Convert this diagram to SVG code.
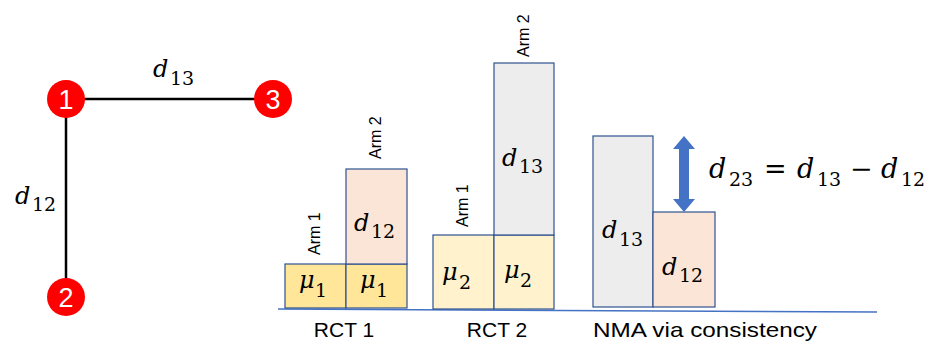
<svg xmlns="http://www.w3.org/2000/svg" width="943" height="363" viewBox="0 0 943 363">
<style>
.edge{stroke:#000;stroke-width:2.5;fill:none}
.node{fill:#FF0000}
.nlbl{font-family:"Liberation Sans",Arial,sans-serif;font-size:27px;fill:#fff;text-anchor:middle}
.box{stroke:#2F528F;stroke-width:1.2}
.m{font-family:"DejaVu Serif","Liberation Serif",serif;fill:#000}
.mi{font-style:italic}
.g{font-size:24px}
.g .sub{font-size:19px}
.b{font-size:24px}
.b .sub{font-size:19px}
.f{font-size:27px}
.f .sub{font-size:19px}
.arm{font-family:"Liberation Sans",Arial,sans-serif;font-size:16px;fill:#000}
.cap{font-family:"Liberation Sans",Arial,sans-serif;font-size:21px;fill:#000}
</style>
<g id="connectors">
<line class="edge" x1="66" y1="99" x2="273" y2="99"/>
<line class="edge" x1="66" y1="99" x2="66" y2="297"/>
</g>
<g id="node1"><circle class="node" cx="66" cy="99" r="19"/><text class="nlbl" x="66" y="109">1</text></g>
<g id="node2"><circle class="node" cx="66" cy="297" r="19"/><text class="nlbl" x="66" y="307">2</text></g>
<g id="node3"><circle class="node" cx="273" cy="99" r="19"/><text class="nlbl" x="273" y="109">3</text></g>
<g id="edge-labels">
<text class="m g"><tspan class="mi" x="153" y="77">d</tspan><tspan class="sub" x="170" y="85">13</tspan></text>
<text class="m g"><tspan class="mi" x="15" y="204">d</tspan><tspan class="sub" x="32" y="211">12</tspan></text>
</g>
<line x1="278" y1="309" x2="877" y2="312" stroke="#4472C4" stroke-width="1.5"/>
<g id="rct1">
<rect class="box" x="285" y="264" width="61" height="44" fill="#FFE699"/>
<rect class="box" x="346" y="264" width="61" height="44" fill="#FFE699"/>
<rect class="box" x="346" y="169" width="61" height="95" fill="#FBE5D6"/>
<text class="m b"><tspan class="mi" x="299" y="288">μ</tspan><tspan class="sub" x="315" y="297">1</tspan></text>
<text class="m b"><tspan class="mi" x="360" y="288">μ</tspan><tspan class="sub" x="376" y="297">1</tspan></text>
<text class="m b"><tspan class="mi" x="354" y="231">d</tspan><tspan class="sub" x="371" y="238">12</tspan></text>
<text class="arm" transform="translate(320,255) rotate(-90)">Arm 1</text>
<text class="arm" transform="translate(381,159) rotate(-90)">Arm 2</text>
<text class="cap" x="344" y="337" text-anchor="middle">RCT 1</text>
</g>
<g id="rct2">
<rect class="box" x="433" y="235" width="61" height="74" fill="#FFF2CC"/>
<rect class="box" x="494" y="235" width="60" height="74" fill="#FFF2CC"/>
<rect class="box" x="494" y="63" width="60" height="172" fill="#EDEDED"/>
<text class="m b"><tspan class="mi" x="442" y="280">μ</tspan><tspan class="sub" x="459" y="289">2</tspan></text>
<text class="m b"><tspan class="mi" x="504" y="278">μ</tspan><tspan class="sub" x="520" y="287">2</tspan></text>
<text class="m b"><tspan class="mi" x="502" y="166">d</tspan><tspan class="sub" x="519" y="173">13</tspan></text>
<text class="arm" transform="translate(468,227) rotate(-90)">Arm 1</text>
<text class="arm" transform="translate(529,57) rotate(-90)">Arm 2</text>
<text class="cap" x="497" y="337" text-anchor="middle">RCT 2</text>
</g>
<g id="nma">
<rect class="box" x="593" y="136" width="60" height="171" fill="#EDEDED"/>
<rect class="box" x="653" y="212" width="62" height="95" fill="#FBE5D6"/>
<text class="m b"><tspan class="mi" x="602" y="238">d</tspan><tspan class="sub" x="619" y="246">13</tspan></text>
<text class="m b"><tspan class="mi" x="662" y="275">d</tspan><tspan class="sub" x="679" y="282">12</tspan></text>
<polygon points="684,136 695,149 689,149 689,199 695,199 684,212 673,199 679,199 679,149 673,149" fill="#4472C4"/>
<text class="m f"><tspan class="mi" x="709" y="178">d</tspan><tspan class="sub" x="729" y="186">23</tspan><tspan x="764" y="178">=</tspan><tspan class="mi" x="797" y="178">d</tspan><tspan class="sub" x="817" y="186">13</tspan><tspan x="850" y="178">−</tspan><tspan class="mi" x="881" y="178">d</tspan><tspan class="sub" x="901" y="186">12</tspan></text>
<text class="cap" x="593" y="337" textLength="224" lengthAdjust="spacingAndGlyphs">NMA via consistency</text>
</g>
</svg>
